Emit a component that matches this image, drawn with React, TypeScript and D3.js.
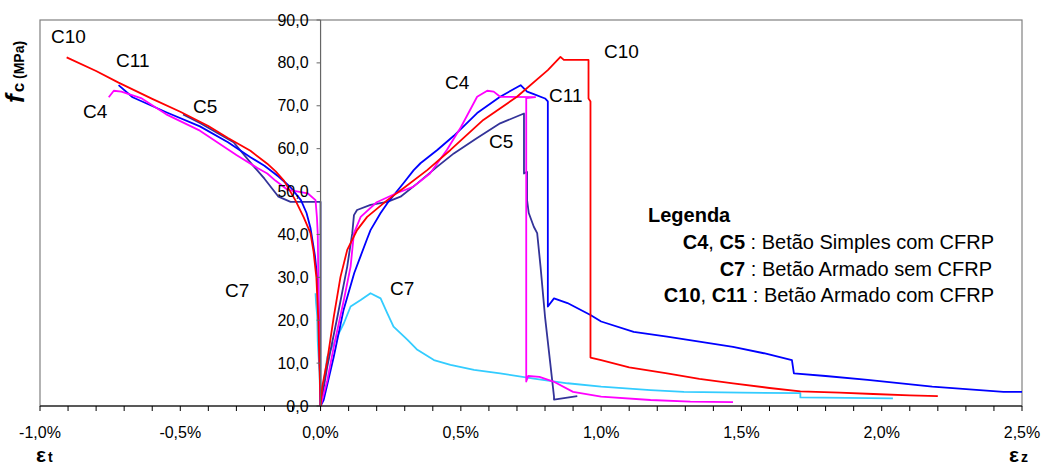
import React from 'react';
import * as d3 from 'd3';

// strain (%) vs stress (MPa); negative strain = lateral (εt), positive = axial (εz)
const c4Lateral: [number, number][] = [[0,0],[-0.003,10],[-0.006,20],[-0.008,30],[-0.01,40],[-0.013,44],[-0.018,48],[-0.046,49.6],[-0.08,50],[-0.118,50.4],[-0.16,52.5],[-0.19,54.2],[-0.225,55.5],[-0.3,58.5],[-0.43,64.2],[-0.55,68],[-0.64,71.8],[-0.71,73.3],[-0.737,73.5],[-0.755,72]];
const c5Lateral: [number, number][] = [[0,0],[0,47.6],[-0.107,47.6],[-0.15,48.8],[-0.2,53],[-0.24,56],[-0.31,61.5],[-0.43,66],[-0.49,68]];
const c7Lateral: [number, number][] = [[0,0],[-0.004,8],[-0.01,15],[-0.012,21],[-0.016,24],[-0.018,26.3]];
const c10Lateral: [number, number][] = [[0,0],[-0.004,10],[-0.008,20],[-0.015,30],[-0.025,36],[-0.036,40.3],[-0.06,44],[-0.09,48],[-0.13,52.5],[-0.16,54.7],[-0.19,56.5],[-0.25,59.5],[-0.33,62.5],[-0.4,65.3],[-0.5,68.6],[-0.6,71.6],[-0.72,75.4],[-0.8,78.1],[-0.905,81.3]];
const c11Lateral: [number, number][] = [[0,0],[-0.003,10],[-0.006,20],[-0.012,30],[-0.02,35],[-0.036,41.5],[-0.05,45],[-0.07,48],[-0.107,51],[-0.15,53.5],[-0.2,56],[-0.25,58],[-0.33,61.5],[-0.43,65.2],[-0.55,68.5],[-0.67,72],[-0.72,74.8]];

const c4Axial: [number, number][] = [[0,0],[0.024,6],[0.047,13.8],[0.083,24.7],[0.107,32.5],[0.119,40.3],[0.143,44.1],[0.2,47.5],[0.27,49.6],[0.33,51.1],[0.39,54.2],[0.45,59.7],[0.5,65],[0.558,72.1],[0.594,73.5],[0.617,73.3],[0.64,72.1],[0.765,72],[0.733,71.8],[0.733,5.7],[0.74,7],[0.78,6.8],[0.83,5.7],[0.9,3.3],[1.0,2.2],[1.176,1.4],[1.318,1],[1.47,0.9]];
const c5Axial: [number, number][] = [[0,0],[0.024,9.2],[0.06,20.8],[0.095,32.5],[0.113,40.3],[0.119,44.5],[0.13,45.7],[0.178,46.9],[0.238,47.6],[0.285,48.8],[0.345,51.9],[0.416,55.8],[0.475,58.9],[0.558,62.5],[0.64,65.9],[0.725,68.2],[0.725,54.2],[0.736,54.6],[0.736,48],[0.742,45],[0.76,41.8],[0.772,40.3],[0.784,32.5],[0.8,20.8],[0.82,9.2],[0.832,2.2],[0.832,1.5],[0.915,2.3]];
const c7Axial: [number, number][] = [[0,0],[0.024,11.5],[0.047,14.6],[0.083,19.3],[0.107,23.2],[0.143,24.7],[0.178,26.3],[0.214,25.1],[0.238,21.6],[0.26,18.5],[0.31,15.4],[0.345,13.1],[0.404,10.7],[0.463,9.6],[0.547,8.4],[0.64,7.6],[0.76,6.4],[0.88,5.3],[1.0,4.5],[1.176,3.7],[1.295,3.3],[1.5,3.1],[1.71,3],[1.71,2],[2.04,1.8]];
const c10Axial: [number, number][] = [[0,0],[0.006,4.5],[0.024,10.7],[0.047,20.8],[0.071,30.1],[0.095,36.4],[0.13,41],[0.166,44.1],[0.238,48],[0.3,51],[0.38,55],[0.463,59.7],[0.58,66.7],[0.7,72.1],[0.81,78.3],[0.855,81.4],[0.867,80.7],[0.955,80.7],[0.955,71.7],[0.962,71],[0.962,11.3],[1.0,10.7],[1.1,9],[1.235,7.6],[1.35,6.3],[1.47,5.3],[1.6,4.2],[1.71,3.4],[1.85,3.1],[1.97,2.8],[2.1,2.5],[2.2,2.3]];
const c11Axial: [number, number][] = [[0,0],[0.011,1.4],[0.047,11.5],[0.082,22.4],[0.12,31],[0.143,35],[0.166,39],[0.178,41],[0.214,45],[0.238,47.3],[0.296,52],[0.332,55],[0.356,56.6],[0.416,59.7],[0.475,63],[0.558,68.3],[0.64,72.1],[0.713,74.8],[0.736,73.3],[0.76,72.7],[0.8,71.7],[0.81,71],[0.81,23.2],[0.832,25.1],[0.88,24],[0.962,21.2],[1.0,19.7],[1.116,17.3],[1.235,16.2],[1.35,15],[1.47,13.8],[1.58,12.3],[1.68,10.7],[1.687,7.6],[1.8,7],[1.95,6.1],[2.18,4.5],[2.434,3.3],[2.5,3.3]];

const series = [
  { name: 'C7', color: '#33CCFF', lateral: c7Lateral, axial: c7Axial },
  { name: 'C5', color: '#333399', lateral: c5Lateral, axial: c5Axial },
  { name: 'C11', color: '#0000FF', lateral: c11Lateral, axial: c11Axial },
  { name: 'C4', color: '#FF00FF', lateral: c4Lateral, axial: c4Axial },
  { name: 'C10', color: '#FF0000', lateral: c10Lateral, axial: c10Axial },
];

// curve labels: [text, x, y] in pixels of the original figure
const curveLabels: [string, number, number][] = [
  ['C10', 51, 43], ['C11', 116, 67], ['C4', 83, 118], ['C5', 193, 113], ['C7', 225, 297],
  ['C4', 445, 89], ['C10', 604, 58], ['C11', 549, 102], ['C5', 489, 148], ['C7', 390, 295],
];

const xTicks = d3.range(-10, 26).map((i) => i / 10);
const yTicks = d3.range(0, 100, 10);

const font = 'Arial, "Liberation Sans", sans-serif';

export default function App() {
  const width = 1046;
  const height = 468;
  const x = d3.scaleLinear().domain([-1.0, 2.5]).range([40, 1022]);
  const y = d3.scaleLinear().domain([0, 90]).range([406, 20]);
  const line = d3.line<[number, number]>().x((d) => x(d[0])).y((d) => y(d[1]));
  const fmt = (v: number) => v.toFixed(1).replace('.', ',');

  return (
    <svg width={width} height={height} style={{ position: 'absolute', left: 0, top: 0 }} fontFamily={font}>
      <rect x={0} y={0} width={width} height={height} fill="#fff" />
      {/* plot frame */}
      <rect x={x(-1)} y={y(90)} width={x(2.5) - x(-1)} height={y(0) - y(90)} fill="none" stroke="#808080" strokeWidth={1.2} />

      {/* series */}
      {series.map((s) => (
        <g key={s.name} fill="none" stroke={s.color} strokeWidth={1.8} strokeLinejoin="round">
          <path d={line(s.lateral) || ''} />
          <path d={line(s.axial) || ''} />
        </g>
      ))}

      {/* y axis at zero strain */}
      <line x1={x(0)} x2={x(0)} y1={y(0)} y2={y(90)} stroke="#666" strokeWidth={1.2} />
      {yTicks.map((t) => (
        <g key={t}>
          <line x1={x(0) - 4} x2={x(0)} y1={y(t)} y2={y(t)} stroke="#666" strokeWidth={1} />
          <text x={x(0) - 12} y={y(t)} dy="0.35em" textAnchor="end" fontSize={16} fill="#000">{fmt(t)}</text>
        </g>
      ))}

      {/* x axis */}
      <line x1={x(-1)} x2={x(2.5)} y1={y(0)} y2={y(0)} stroke="#000" strokeWidth={1.2} />
      {xTicks.map((t, i) => (
        <g key={i}>
          <line x1={x(t)} x2={x(t)} y1={y(0)} y2={y(0) + 5} stroke="#000" strokeWidth={1} />
          {i % 5 === 0 && (
            <text x={x(t)} y={y(0) + 32} textAnchor="middle" fontSize={16} fill="#000">{fmt(t) + '%'}</text>
          )}
        </g>
      ))}

      {/* curve labels */}
      {curveLabels.map(([t, lx, ly], i) => (
        <text key={i} x={lx} y={ly} fontSize={19} fill="#000">{t}</text>
      ))}

      {/* legend */}
      <text x={648} y={222} fontSize={20} fontWeight="bold">Legenda</text>
      <text x={994} y={249} fontSize={20} textAnchor="end">
        <tspan fontWeight="bold">C4</tspan>, <tspan fontWeight="bold">C5</tspan> : Betão Simples com CFRP
      </text>
      <text x={992} y={276} fontSize={20} textAnchor="end">
        <tspan fontWeight="bold">C7</tspan> : Betão Armado sem CFRP
      </text>
      <text x={994} y={302} fontSize={20} textAnchor="end">
        <tspan fontWeight="bold">C10</tspan>, <tspan fontWeight="bold">C11</tspan> : Betão Armado com CFRP
      </text>

      {/* axis titles */}
      <text transform="translate(24,103) rotate(-90)" fontWeight="bold">
        <tspan fontSize={26} fontStyle="italic">f</tspan>
        <tspan fontSize={17} dx={2}>c</tspan>
        <tspan fontSize={14}> (MPa)</tspan>
      </text>
      <text x={36} y={462} fontWeight="bold">
        <tspan fontSize={21}>ε</tspan>
        <tspan fontSize={14} dx={2}>t</tspan>
      </text>
      <text x={1009} y={462} fontWeight="bold">
        <tspan fontSize={21}>ε</tspan>
        <tspan fontSize={14} dx={2}>z</tspan>
      </text>
    </svg>
  );
}
